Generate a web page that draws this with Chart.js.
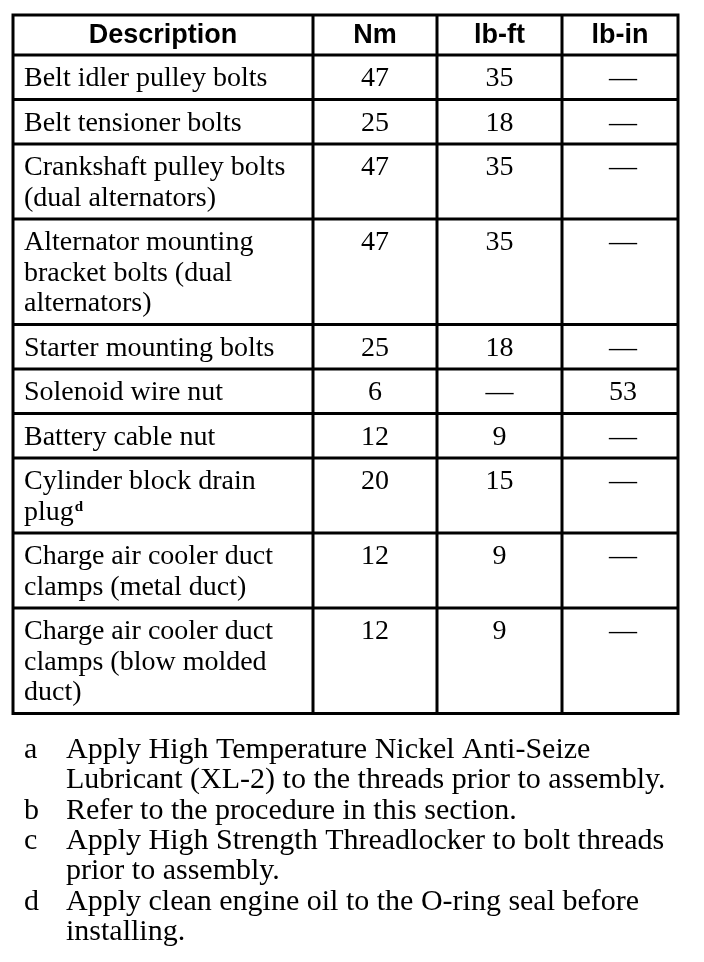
<!DOCTYPE html>
<html>
<head>
<meta charset="utf-8">
<title>Torque specifications</title>
<script src="https://cdn.jsdelivr.net/npm/chart.js@4"></script>
<style>
  html, body { margin: 0; padding: 0; background: #fff; }
  #table-canvas { display: block; }
</style>
</head>
<body>
<canvas id="table-canvas" width="704" height="962"></canvas>
<script>
// table content
const columnTitles = ["Description", "Nm", "lb-ft", "lb-in"];
const descriptions = [
  ["Belt idler pulley bolts"],
  ["Belt tensioner bolts"],
  ["Crankshaft pulley bolts", "(dual alternators)"],
  ["Alternator mounting", "bracket bolts (dual", "alternators)"],
  ["Starter mounting bolts"],
  ["Solenoid wire nut"],
  ["Battery cable nut"],
  ["Cylinder block drain", "plug"],
  ["Charge air cooler duct", "clamps (metal duct)"],
  ["Charge air cooler duct", "clamps (blow molded", "duct)"],
];
const noteRefs = ["", "", "", "", "", "", "", "d", "", ""];
const nmValues = [47, 25, 47, 47, 25, 6, 12, 20, 12, 12];
const lbFtValues = [35, 18, 35, 35, 18, null, 9, 15, 9, 9];
const lbInValues = [null, null, null, null, null, 53, null, null, null, null];

const noteLetters = ["a", "b", "c", "d"];
const noteTexts = [
  ["Apply High Temperature Nickel Anti-Seize", "Lubricant (XL-2) to the threads prior to assembly."],
  ["Refer to the procedure in this section."],
  ["Apply High Strength Threadlocker to bolt threads", "prior to assembly."],
  ["Apply clean engine oil to the O-ring seal before", "installing."],
];

// layout
const tableLeft = 13;
const tableTop = 15;
const colWidths = [300, 124, 125, 116];
const headerHeight = 40;
const lineStep = 30.5;
const firstLineRow = 44.5;

const serifFont = '28px "Liberation Serif", "Times New Roman", serif';
const noteFont = '30px "Liberation Serif", "Times New Roman", serif';
const headFont = 'bold 27px "Liberation Sans", Arial, sans-serif';
const supFont = 'bold 15px "Liberation Serif", serif';

const fmt = (v) => (v === null ? "\u2014" : String(v));

const tablePlugin = {
  id: "torqueTable",
  afterDraw(chart) {
    const ctx = chart.ctx;
    const xs = chart.scales.x;
    const ys = chart.scales.y;
    const px = (v) => xs.getPixelForValue(v);
    const py = (v) => ys.getPixelForValue(v);

    // column edges
    const colEdges = [tableLeft];
    colWidths.forEach((w) => colEdges.push(colEdges[colEdges.length - 1] + w));

    // row edges
    const rowEdges = [tableTop, tableTop + headerHeight];
    descriptions.forEach((lines) => {
      const h = firstLineRow + lineStep * (lines.length - 1);
      rowEdges.push(rowEdges[rowEdges.length - 1] + h);
    });
    const tableBottom = rowEdges[rowEdges.length - 1];
    const tableRight = colEdges[colEdges.length - 1];

    ctx.save();
    ctx.fillStyle = "#000";
    ctx.textBaseline = "alphabetic";

    // header
    ctx.font = headFont;
    ctx.textAlign = "center";
    columnTitles.forEach((t, i) => {
      const cx = (colEdges[i] + colEdges[i + 1]) / 2;
      ctx.fillText(t, px(cx), py(tableTop + 28));
    });

    // body rows
    const valueCols = [nmValues, lbFtValues, lbInValues];
    descriptions.forEach((lines, r) => {
      const top = rowEdges[r + 1];
      const base = top + 31;
      ctx.font = serifFont;
      ctx.textAlign = "left";
      lines.forEach((line, k) => {
        ctx.fillText(line, px(colEdges[0] + 11), py(base + k * lineStep));
      });
      if (noteRefs[r]) {
        const last = lines[lines.length - 1];
        const w = ctx.measureText(last).width;
        ctx.font = supFont;
        ctx.fillText(noteRefs[r], px(colEdges[0] + 12 + w), py(base + (lines.length - 1) * lineStep - 9));
        ctx.font = serifFont;
      }
      ctx.textAlign = "center";
      valueCols.forEach((vals, c) => {
        const cx = (colEdges[c + 1] + colEdges[c + 2]) / 2 + (c === 2 ? 3 : 0);
        ctx.fillText(fmt(vals[r]), px(cx), py(base));
      });
    });

    // grid lines
    ctx.strokeStyle = "#000";
    ctx.lineWidth = 3;
    ctx.beginPath();
    rowEdges.forEach((y) => {
      ctx.moveTo(px(tableLeft - 1.5), py(y));
      ctx.lineTo(px(tableRight + 1.5), py(y));
    });
    colEdges.forEach((x) => {
      ctx.moveTo(px(x), py(tableTop));
      ctx.lineTo(px(x), py(tableBottom));
    });
    ctx.stroke();

    // footnotes
    let noteBase = 758;
    ctx.font = noteFont;
    ctx.textAlign = "left";
    noteTexts.forEach((lines, n) => {
      ctx.fillText(noteLetters[n], px(24), py(noteBase));
      lines.forEach((line) => {
        ctx.fillText(line, px(66), py(noteBase));
        noteBase += 30.3;
      });
    });
    ctx.restore();
  },
};

new Chart(document.getElementById("table-canvas"), {
  type: "scatter",
  data: { datasets: [] },
  options: {
    responsive: false,
    animation: false,
    devicePixelRatio: 1,
    layout: { padding: 0 },
    plugins: { legend: { display: false }, tooltip: { enabled: false } },
    scales: {
      x: { type: "linear", display: false, min: 0, max: 704 },
      y: { type: "linear", display: false, min: 0, max: 962, reverse: true },
    },
  },
  plugins: [tablePlugin],
});
</script>
</body>
</html>
